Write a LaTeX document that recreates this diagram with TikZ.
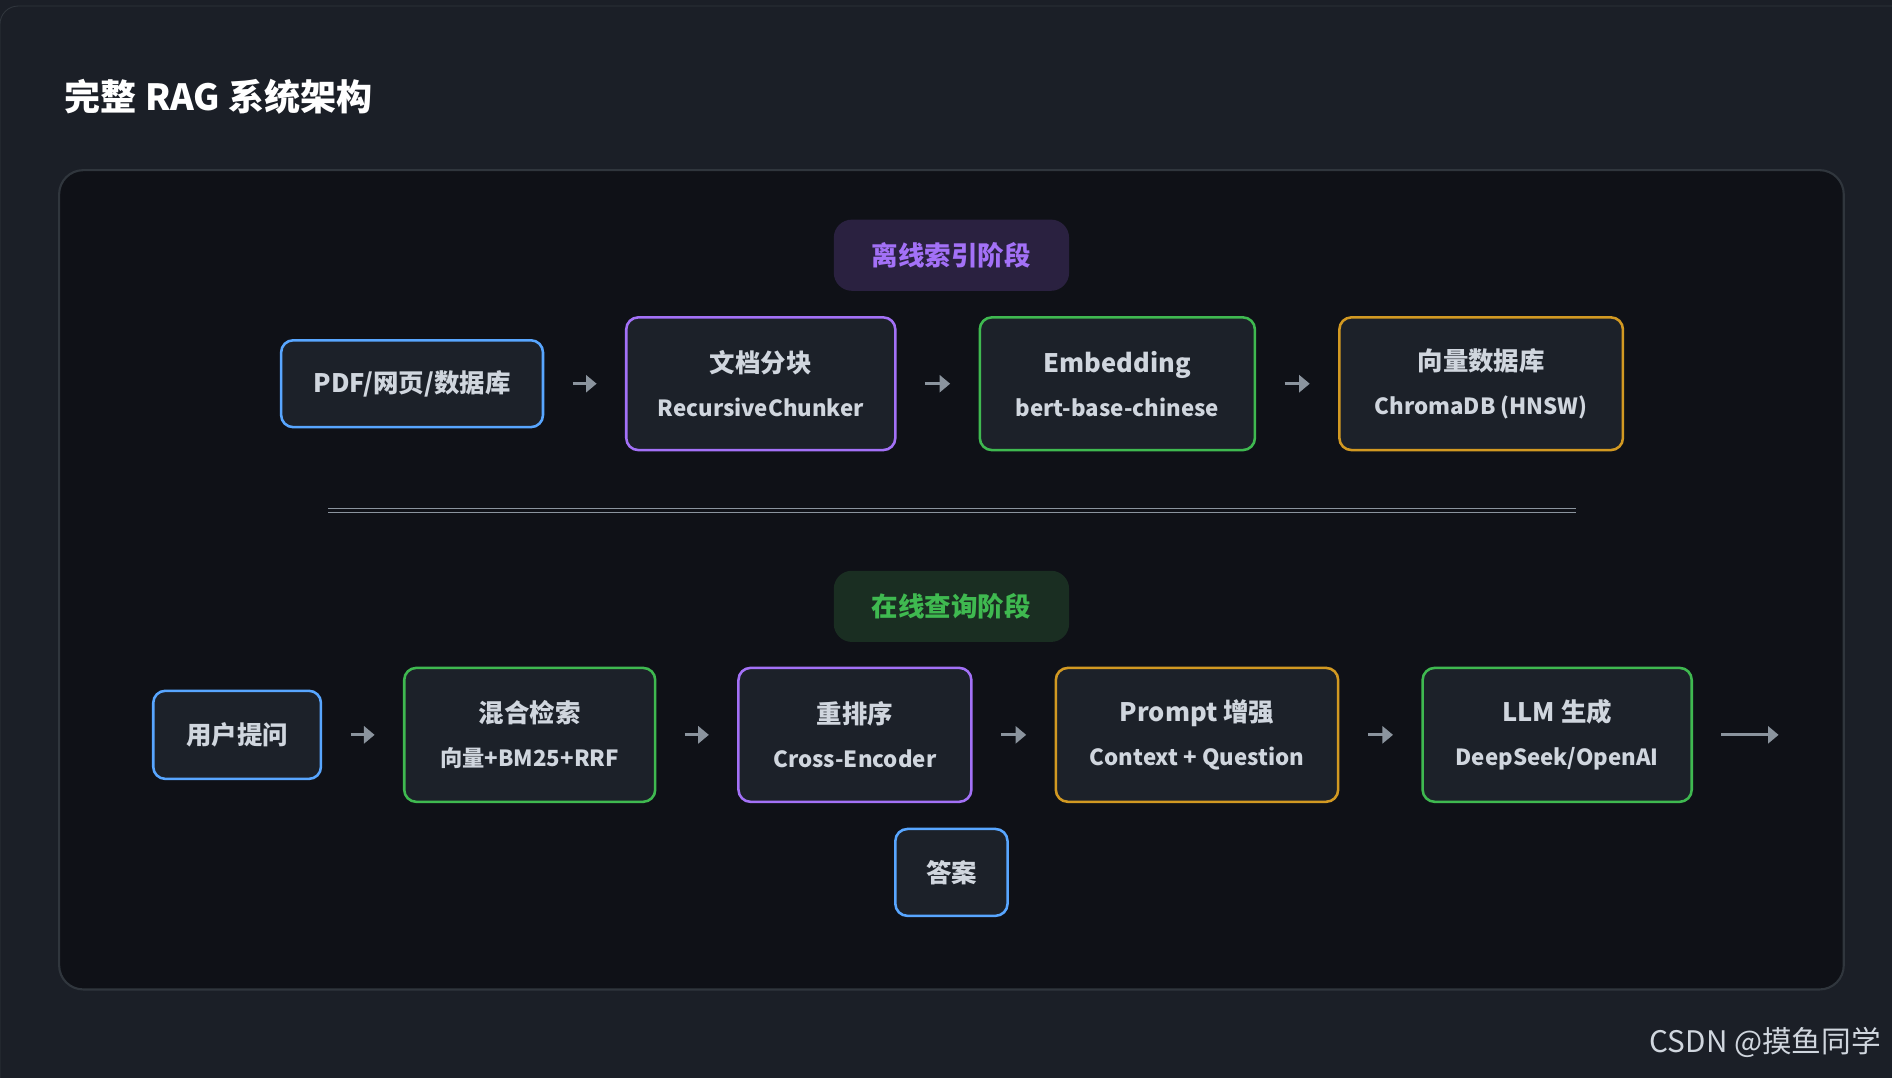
\documentclass[tikz,border=0pt]{standalone}
\usepackage{fontspec}
\setmainfont{Noto Sans CJK SC}
\usetikzlibrary{arrows.meta}
\definecolor{bgc}{HTML}{1B1F27}
\definecolor{panelc}{HTML}{0F1117}
\definecolor{cardc}{HTML}{1C2129}
\definecolor{linec}{HTML}{30363D}
\definecolor{txtc}{HTML}{D0D6DE}
\definecolor{bluec}{HTML}{58A6FF}
\definecolor{purpc}{HTML}{A371F7}
\definecolor{greenc}{HTML}{3FB950}
\definecolor{orgc}{HTML}{D29922}
\definecolor{arrc}{HTML}{8B949E}
\tikzset{bx/.style={draw,rounded corners=0.2cm,fill=cardc,line width=1.2pt,text=txtc,align=center,font=\bfseries\fontsize{12}{15}\selectfont,inner sep=0pt}}
\tikzset{bg/.style={rounded corners=0.3cm,align=center,font=\bfseries\fontsize{12.5}{15}\selectfont,minimum width=3.9cm,minimum height=1.18cm}}
\tikzset{ar/.style={-{Stealth[length=5pt,width=8pt,inset=0pt]},line width=1.3pt,arrc,shorten >=0.47cm,shorten <=0.47cm}}
\newcommand{\sub}[1]{\\[0.2cm]{\fontsize{10.5}{13}\selectfont #1}}
\begin{document}
\begin{tikzpicture}
\useasboundingbox (0,0) rectangle (31.36,-17.86);
\fill[bgc] (0,0) rectangle (31.36,-17.86);
\draw[linec,fill=bgc,rounded corners=0.3cm] (0,-0.1) rectangle (31.8,-18.2);
\node[anchor=west,text=white,font=\bfseries\fontsize{17}{20}\selectfont] (title) at (0.95,-1.6) {完整 RAG 系统架构};
\draw[linec,fill=panelc,rounded corners=0.4cm,line width=1pt] (0.98,-2.82) rectangle (30.56,-16.4);
% offline stage
\node[bg,fill={rgb,255:red,42;green,33;blue,64},text=purpc] (off) at (15.77,-4.23) {离线索引阶段};
\node[bx,draw=bluec,minimum width=4.34cm,minimum height=1.44cm] (src) at (6.83,-6.36) {PDF/网页/数据库};
\node[bx,draw=purpc,minimum width=4.46cm,minimum height=2.2cm] (chunk) at (12.61,-6.36) {文档分块\sub{RecursiveChunker}};
\node[bx,draw=greenc,minimum width=4.56cm,minimum height=2.2cm] (emb) at (18.52,-6.36) {Embedding\sub{bert-base-chinese}};
\node[bx,draw=orgc,minimum width=4.7cm,minimum height=2.2cm] (vdb) at (24.55,-6.36) {向量数据库\sub{ChromaDB (HNSW)}};
\draw[ar] (src) -- (chunk);
\draw[ar] (chunk) -- (emb);
\draw[ar] (emb) -- (vdb);
\draw[arrc,double=panelc,double distance=1.2pt,line width=0.7pt] (5.44,-8.46) -- (26.12,-8.46);
% online stage
\node[bg,fill={rgb,255:red,26;green,46;blue,34},text=greenc] (on) at (15.77,-10.05) {在线查询阶段};
\node[bx,draw=bluec,minimum width=2.78cm,minimum height=1.46cm] (ask) at (3.93,-12.18) {用户提问};
\node[bx,draw=greenc,minimum width=4.16cm,minimum height=2.22cm] (mix) at (8.78,-12.18) {混合检索\sub{向量+BM25+RRF}};
\node[bx,draw=purpc,minimum width=3.86cm,minimum height=2.22cm] (rank) at (14.17,-12.18) {重排序\sub{Cross-Encoder}};
\node[bx,draw=orgc,minimum width=4.68cm,minimum height=2.22cm] (prompt) at (19.84,-12.18) {Prompt 增强\sub{Context + Question}};
\node[bx,draw=greenc,minimum width=4.46cm,minimum height=2.22cm] (llm) at (25.81,-12.18) {LLM 生成\sub{DeepSeek/OpenAI}};
\coordinate (out) at (29.48,-12.18);
\node[bx,draw=bluec,minimum width=1.86cm,minimum height=1.44cm] (ans) at (15.77,-14.46) {答案};
\draw[ar] (ask) -- (mix);
\draw[ar] (mix) -- (rank);
\draw[ar] (rank) -- (prompt);
\draw[ar] (prompt) -- (llm);
\draw[ar,shorten >=0pt] (llm) -- (out);
\node[anchor=east,text=txtc,font=\fontsize{14}{16}\selectfont] (mark) at (31.3,-17.28) {CSDN @摸鱼同学};
\end{tikzpicture}
\end{document}
